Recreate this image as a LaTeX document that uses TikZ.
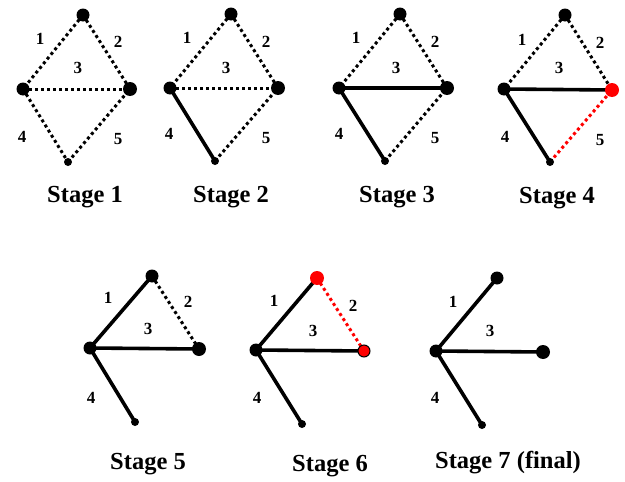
\documentclass[tikz,border=0pt]{standalone}
\usepackage{fontspec}
\setmainfont{Liberation Serif}
\usepackage{tikz}
\usetikzlibrary{backgrounds}
\definecolor{cutred}{RGB}{255,0,0}
\tikzset{
  vtx/.style={circle,fill=black,inner sep=0pt,minimum size=13pt},
  vtxsmall/.style={circle,fill=black,inner sep=0pt,minimum size=8pt},
  vtxred/.style={vtx,fill=cutred},
  vtxredring/.style={vtx,fill=cutred,draw=black,line width=1pt,minimum size=12pt},
  dotedge/.style={draw=black,line width=3pt,dash pattern=on 3pt off 3pt},
  rededge/.style={dotedge,draw=cutred},
  treeedge/.style={draw=black,line width=3.6pt},
  elabel/.style={font=\fontsize{17}{19}\selectfont\bfseries},
  stagename/.style={font=\fontsize{24.5}{27}\selectfont\bfseries}
}

\begin{document}
\begin{tikzpicture}[x=1pt,y=-1pt]
\useasboundingbox (0,0) rectangle (625,482);
% Stage 1
\node[vtx] (t1) at (83,15) {};
\node[vtx] (l1) at (23,89) {};
\node[vtx,minimum size=14pt] (r1) at (130,89) {};
\node[vtxsmall] (b1) at (68,162) {};
\node[elabel] (e11) at (40,39) {1};
\node[elabel] (e12) at (118,42) {2};
\node[elabel] (e13) at (78,68) {3};
\node[elabel] (e14) at (22,137) {4};
\node[elabel] (e15) at (118,139) {5};
\node[stagename] (s1) at (85,197) {Stage 1};
\begin{scope}[on background layer]
\draw[dotedge] (t1.center)--(l1.center);
\draw[dotedge] (t1.center)--(r1.center);
\draw[dotedge] (l1.center)--(r1.center);
\draw[dotedge] (l1.center)--(b1.center);
\draw[dotedge] (b1.center)--(r1.center);
\end{scope}
% Stage 2
\node[vtx] (t2) at (231,14) {};
\node[vtx] (l2) at (170,88) {};
\node[vtx,minimum size=14pt] (r2) at (278,88) {};
\node[vtxsmall] (b2) at (215,161) {};
\node[elabel] (e21) at (187,38) {1};
\node[elabel] (e22) at (266,42) {2};
\node[elabel] (e23) at (226,68) {3};
\node[elabel] (e24) at (169,134) {4};
\node[elabel] (e25) at (266,138) {5};
\node[stagename] (s2) at (231,197) {Stage 2};
\begin{scope}[on background layer]
\draw[dotedge] (t2.center)--(l2.center);
\draw[dotedge] (t2.center)--(r2.center);
\draw[dotedge] (l2.center)--(r2.center);
\draw[treeedge] (l2.center)--(b2.center);
\draw[dotedge] (b2.center)--(r2.center);
\end{scope}
% Stage 3
\node[vtx] (t3) at (400,14) {};
\node[vtx] (l3) at (339,88) {};
\node[vtx,minimum size=14pt] (r3) at (447,88) {};
\node[vtxsmall] (b3) at (385,161) {};
\node[elabel] (e31) at (356,38) {1};
\node[elabel] (e32) at (435,42) {2};
\node[elabel] (e33) at (396,68) {3};
\node[elabel] (e34) at (339,134) {4};
\node[elabel] (e35) at (435,138) {5};
\node[stagename] (s3) at (397,197) {Stage 3};
\begin{scope}[on background layer]
\draw[dotedge] (t3.center)--(l3.center);
\draw[dotedge] (t3.center)--(r3.center);
\draw[treeedge] (l3.center)--(r3.center);
\draw[treeedge] (l3.center)--(b3.center);
\draw[dotedge] (b3.center)--(r3.center);
\end{scope}
% Stage 4
\node[vtx] (t4) at (565,15) {};
\node[vtx] (l4) at (504,89) {};
\node[vtxred,minimum size=14pt] (r4) at (612,90) {};
\node[vtxsmall] (b4) at (550,162) {};
\node[elabel] (e41) at (522,40) {1};
\node[elabel] (e42) at (600,43) {2};
\node[elabel] (e43) at (559,68) {3};
\node[elabel] (e44) at (505,137) {4};
\node[elabel] (e45) at (600,140) {5};
\node[stagename] (s4) at (557,198) {Stage 4};
\begin{scope}[on background layer]
\draw[dotedge] (t4.center)--(l4.center);
\draw[dotedge] (t4.center)--(r4.center);
\draw[treeedge] (l4.center)--(r4.center);
\draw[treeedge] (l4.center)--(b4.center);
\draw[rededge] (b4.center)--(r4.center);
\end{scope}
% Stage 5
\node[vtx] (t5) at (152,276) {};
\node[vtx] (l5) at (90,348) {};
\node[vtx,minimum size=14pt] (r5) at (199,349) {};
\node[vtxsmall] (b5) at (135,422) {};
\node[elabel] (e51) at (108,298) {1};
\node[elabel] (e52) at (188,302) {2};
\node[elabel] (e53) at (148,329) {3};
\node[elabel] (e54) at (91,398) {4};
\node[stagename] (s5) at (148,464) {Stage 5};
\begin{scope}[on background layer]
\draw[treeedge] (t5.center)--(l5.center);
\draw[dotedge] (t5.center)--(r5.center);
\draw[treeedge] (l5.center)--(r5.center);
\draw[treeedge] (l5.center)--(b5.center);
\end{scope}
% Stage 6
\node[vtxred,minimum size=14pt] (t6) at (317,278) {};
\node[vtx] (l6) at (256,350) {};
\node[vtxredring] (r6) at (364,351) {};
\node[vtxsmall] (b6) at (302,424) {};
\node[elabel] (e61) at (274,301) {1};
\node[elabel] (e62) at (353,306) {2};
\node[elabel] (e63) at (313,331) {3};
\node[elabel] (e64) at (257,398) {4};
\node[stagename] (s6) at (330,466) {Stage 6};
\begin{scope}[on background layer]
\draw[treeedge] (t6.center)--(l6.center);
\draw[rededge] (t6.center)--(r6.center);
\draw[treeedge] (l6.center)--(r6.center);
\draw[treeedge] (l6.center)--(b6.center);
\end{scope}
% Stage 7 (final)
\node[vtx] (t7) at (497,278) {};
\node[vtx] (l7) at (436,351) {};
\node[vtx,minimum size=14pt] (r7) at (543,352) {};
\node[vtxsmall] (b7) at (482,425) {};
\node[elabel] (e71) at (453,302) {1};
\node[elabel] (e73) at (490,331) {3};
\node[elabel] (e74) at (435,398) {4};
\node[stagename] (s7) at (508,463) {Stage 7 (final)};
\begin{scope}[on background layer]
\draw[treeedge] (t7.center)--(l7.center);
\draw[treeedge] (l7.center)--(r7.center);
\draw[treeedge] (l7.center)--(b7.center);
\end{scope}
\end{tikzpicture}
\end{document}
